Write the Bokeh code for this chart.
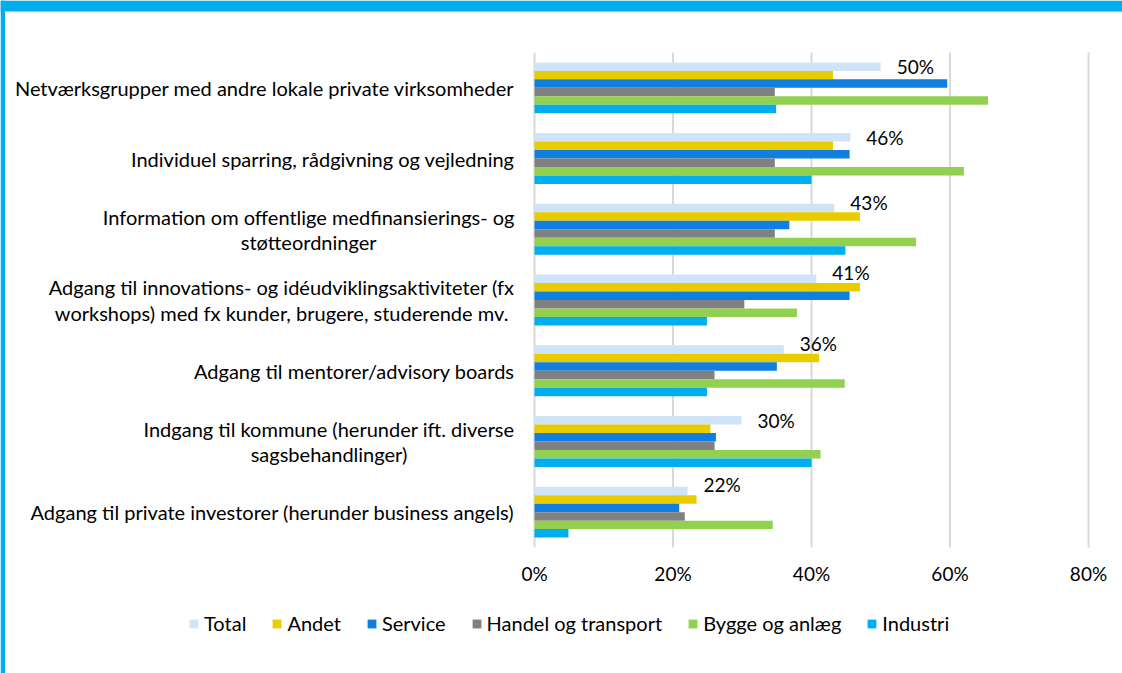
from bokeh.plotting import figure
from bokeh.models import (ColumnDataSource, Range1d, Legend, LegendItem, Label,
                          BoxAnnotation)
from bokeh.transform import dodge
from bokeh.core.properties import value
from bokeh.embed import file_html
from bokeh.resources import INLINE

categories = [
    "Netværksgrupper med andre lokale private virksomheder",
    "Individuel sparring, rådgivning og vejledning",
    "Information om offentlige medfinansierings- og\nstøtteordninger",
    "Adgang til innovations- og idéudviklingsaktiviteter (fx\nworkshops) med fx kunder, brugere, studerende mv.",
    "Adgang til mentorer/advisory boards",
    "Indgang til kommune (herunder ift. diverse\nsagsbehandlinger)",
    "Adgang til private investorer (herunder business angels)",
]
series = ["Total", "Andet", "Service", "Handel og transport", "Bygge og anlæg", "Industri"]
total = [50.0, 45.6, 43.3, 40.7, 36.0, 29.9, 22.1]
andet = [43.1, 43.1, 47.0, 47.0, 41.1, 25.4, 23.4]
service = [59.6, 45.5, 36.8, 45.5, 35.0, 26.2, 20.9]
handel = [34.7, 34.7, 34.7, 30.3, 26.0, 26.0, 21.7]
bygge = [65.5, 62.0, 55.1, 37.9, 44.8, 41.3, 34.4]
industri = [34.9, 40.0, 44.9, 24.9, 24.9, 40.0, 4.9]
total_labels = ["50%", "46%", "43%", "41%", "36%", "30%", "22%"]
x_ticks = [0, 20, 40, 60, 80]
x_tick_labels = ["0%", "20%", "40%", "60%", "80%"]

colors = ["#CFE4F8", "#E8CC00", "#117FDF", "#808080", "#92D050", "#00ADEF"]
BAND = "#00ADEF"
FONT = "Lato"
FS_TXT = "20px"
FS_NUM = "19px"

n = len(categories)
# labels are nudged upward where the bar below (Andet) is longer than Total
label_dy = [-6 if a > t else 0 for a, t in zip(andet, total)]
src = ColumnDataSource(dict(
    y=[n - 1 - i for i in range(n)],
    Total=total, Andet=andet, Service=service,
    Handel=handel, Bygge=bygge, Industri=industri,
    label=total_labels, dy=label_dy,
))
cols = ["Total", "Andet", "Service", "Handel", "Bygge", "Industri"]

W, H = 1122, 673
PX = 138.5 / 20.0          # pixels per percent
LEFT = 534                 # pixel position of 0%
TOP = 52                   # top of category area
CAT_PX = 495 / n           # pixels per category
BOTTOM = H - TOP - 495
x0 = -LEFT / PX
x1 = x0 + W / PX
ytop = (n - 0.5) + TOP / CAT_PX
ybot = -0.5 - BOTTOM / CAT_PX

p = figure(width=W, height=H, output_backend="svg", toolbar_location=None,
           x_range=Range1d(x0, x1), y_range=Range1d(ybot, ytop),
           min_border=0, title=None)
p.outline_line_color = None
p.background_fill_color = "white"
p.border_fill_color = "white"
p.xaxis.visible = False
p.yaxis.visible = False
p.xgrid.visible = False
p.ygrid.visible = False

# blue frame bands
p.add_layout(BoxAnnotation(bottom=ytop - 11 / CAT_PX, fill_color=BAND, fill_alpha=1,
                           line_color=None, level="underlay"))
p.add_layout(BoxAnnotation(right=x0 + 4.5 / PX, fill_color=BAND, fill_alpha=1,
                           line_color=None, level="underlay"))

# vertical gridlines at the tick values
p.segment(x0=x_ticks, x1=x_ticks, y0=[-0.5] * len(x_ticks), y1=[n - 0.5] * len(x_ticks),
          line_color="#D9D9D9", line_width=2)

bh = 0.12
renderers = []
for k, (c, name, col) in enumerate(zip(cols, series, colors)):
    r = p.hbar(y=dodge("y", (2.5 - k) * bh), left=0, right=c, height=bh, source=src,
               fill_color=col, line_color=None)
    renderers.append(r)

# data labels for Total
p.text(x="Total", y=dodge("y", 2.5 * bh), text="label", source=src,
       x_offset=16, y_offset="dy", text_baseline="middle", text_align="left",
       text_font=value(FONT), text_font_size=FS_NUM, text_color="black")

# x tick labels
p.text(x=x_ticks, y=[-0.5] * len(x_ticks), text=x_tick_labels, y_offset=26,
       text_baseline="middle", text_align="center",
       text_font=value(FONT), text_font_size=FS_NUM, text_color="black")

# category labels
for i, cat in enumerate(categories):
    p.add_layout(Label(x=0, y=n - 1 - i, x_offset=-20,
                       text=cat, anchor="center_right", text_align="center",
                       text_baseline="middle", text_font=FONT, text_font_size=FS_TXT,
                       text_color="black", text_line_height=1.05))

leg = Legend(items=[LegendItem(label=s, renderers=[r]) for s, r in zip(series, renderers)],
             orientation="horizontal", location=(188, 38),
             glyph_width=11, glyph_height=11, label_height=20, label_standoff=5,
             spacing=25, padding=0, margin=0, border_line_color=None,
             background_fill_alpha=0, label_text_font=FONT, label_text_font_size=FS_TXT,
             label_text_color="black")
p.add_layout(leg, "center")

open("out.html", "w").write(file_html(p, INLINE))
